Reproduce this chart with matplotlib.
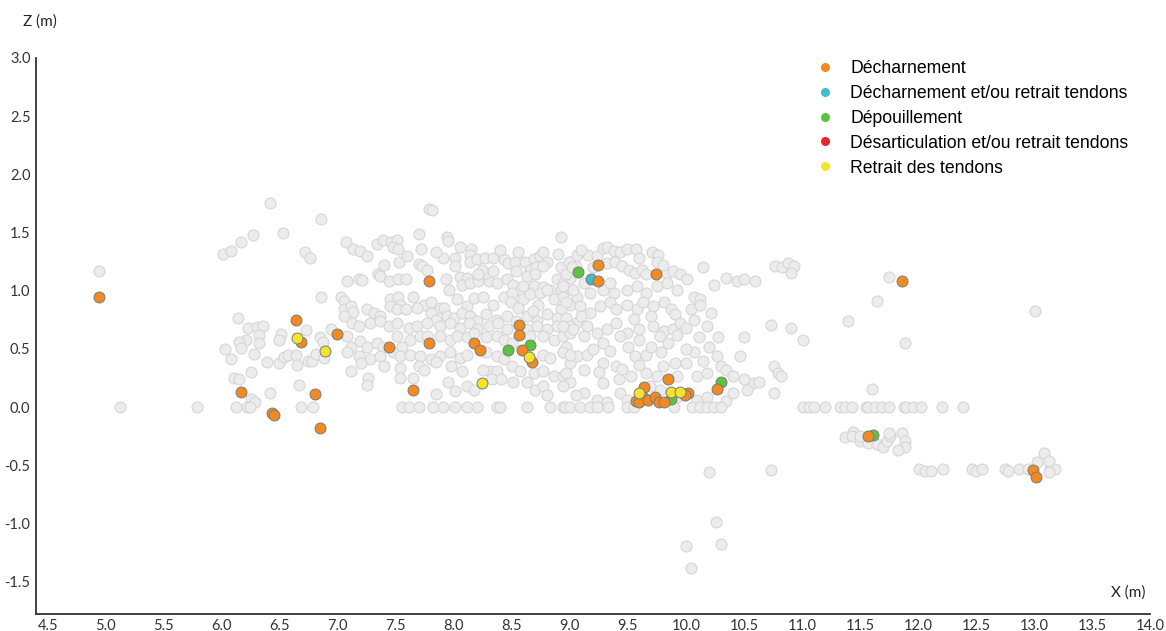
import matplotlib
matplotlib.use('Agg')
import matplotlib.pyplot as plt
from matplotlib.lines import Line2D

# 背景の点（全資料）
bg_left = [
    (6.42, 1.75), (6.86, 1.62), (6.27, 1.48), (6.53, 1.50), (6.17, 1.42), (6.01, 1.32), (6.08, 1.34),
    (6.72, 1.33), (6.76, 1.28), (4.94, 1.17), (6.86, 0.95), (6.14, 0.77), (6.23, 0.68), (6.30, 0.69),
    (6.36, 0.70), (6.32, 0.62), (6.21, 0.58), (6.15, 0.56), (6.17, 0.51), (6.32, 0.55), (6.51, 0.63),
    (6.49, 0.58), (6.73, 0.66), (6.85, 0.60), (6.87, 0.56), (6.94, 0.67), (6.03, 0.50), (6.08, 0.41),
    (6.28, 0.46), (6.39, 0.39), (6.49, 0.38), (6.54, 0.43), (6.57, 0.45), (6.64, 0.45), (6.65, 0.36),
    (6.74, 0.40), (6.78, 0.40), (6.81, 0.46), (6.88, 0.42), (6.25, 0.30), (6.11, 0.25), (6.15, 0.24),
    (6.67, 0.19), (6.42, 0.12), (6.25, 0.07), (6.29, 0.04),
]
bg_center = [
    (7.79, 1.70), (7.81, 1.69), (7.70, 1.49), (7.07, 1.42), (7.13, 1.36), (7.19, 1.34), (7.34, 1.40),
    (7.39, 1.44), (7.46, 1.42), (7.51, 1.44), (7.48, 1.38), (7.52, 1.36), (7.72, 1.36), (7.94, 1.46),
    (7.95, 1.43), (8.15, 1.36), (8.14, 1.31), (8.92, 1.46), (7.53, 1.25), (7.70, 1.23), (7.73, 1.21),
    (7.77, 1.18), (7.91, 1.28), (8.01, 1.28), (8.01, 1.21),
    (8.14, 1.25), (8.20, 1.27), (8.27, 1.28), (8.34, 1.28), (8.43, 1.27), (8.47, 1.24), (8.53, 1.25),
    (8.61, 1.25), (8.69, 1.27), (8.74, 1.30), (8.77, 1.33), (8.80, 1.25), (8.54, 1.17), (8.66, 1.18),
    (8.71, 1.20), (8.77, 1.21), (8.63, 1.13), (8.70, 1.14), (8.92, 1.20), (9.00, 1.25), (9.05, 1.21),
    (7.08, 1.08), (7.18, 1.10), (7.21, 1.09), (7.35, 1.14), (7.36, 1.13), (7.44, 1.08), (7.52, 1.10),
    (7.59, 1.10), (7.93, 1.10), (7.96, 1.01), (8.05, 1.12), (8.11, 1.11), (8.07, 1.05), (8.14, 1.07),
    (8.21, 1.08), (8.30, 1.08), (8.37, 1.07), (8.46, 1.10), (8.28, 1.15), (8.34, 1.17), (8.24, 1.18),
    (8.21, 1.14), (8.51, 1.05), (8.57, 1.01), (8.60, 1.04), (8.69, 1.04), (8.77, 1.03), (8.83, 1.01),
    (8.89, 1.10), (8.94, 1.07), (9.00, 1.11), (8.92, 1.01), (9.03, 1.01),
    (7.03, 0.95), (7.05, 0.91), (7.45, 0.93), (7.52, 0.95), (7.54, 0.88), (7.65, 0.95), (7.74, 0.88),
    (7.80, 0.90), (7.88, 0.85), (7.92, 0.85), (8.03, 0.93), (8.11, 0.87), (8.17, 0.94), (8.25, 0.95),
    (8.34, 0.88), (8.43, 0.95), (8.50, 0.98), (8.49, 0.90), (8.60, 0.93), (8.66, 0.97), (8.74, 0.98),
    (8.73, 0.88), (8.80, 1.01), (8.86, 0.93), (8.94, 0.95), (9.00, 0.88), (8.92, 0.84), (9.06, 0.95),
    (7.05, 0.84), (7.11, 0.87), (7.13, 0.82), (7.25, 0.84), (7.31, 0.81), (7.36, 0.78), (7.45, 0.87),
    (7.51, 0.84), (7.59, 0.84), (7.68, 0.85), (7.80, 0.81), (7.85, 0.75), (7.94, 0.78), (8.00, 0.77),
    (8.07, 0.81), (8.14, 0.78), (8.20, 0.74), (8.28, 0.80), (8.37, 0.75), (8.46, 0.78), (8.54, 0.74),
    (8.63, 0.78), (8.72, 0.74), (8.80, 0.80), (8.89, 0.77), (8.97, 0.77), (9.05, 0.72),
    (7.05, 0.78), (7.12, 0.72), (7.18, 0.70), (7.28, 0.72), (7.36, 0.74), (7.44, 0.70), (7.51, 0.72),
    (7.61, 0.68), (7.68, 0.70), (7.77, 0.72), (7.88, 0.70), (7.97, 0.72), (8.05, 0.68), (8.13, 0.72),
    (8.20, 0.67), (8.30, 0.70), (8.38, 0.72), (8.46, 0.67), (8.63, 0.67), (8.72, 0.70), (8.80, 0.67),
    (8.89, 0.70), (9.00, 0.70),
    (7.08, 0.61), (7.11, 0.52), (7.19, 0.57), (7.25, 0.52), (7.34, 0.55), (7.39, 0.52), (7.51, 0.61),
    (7.55, 0.52), (7.62, 0.58), (7.71, 0.61), (7.77, 0.61), (7.88, 0.61), (7.97, 0.58), (8.03, 0.61),
    (8.11, 0.60), (8.17, 0.64), (8.28, 0.60), (8.37, 0.61), (8.43, 0.58), (8.50, 0.55), (8.66, 0.61),
    (8.77, 0.61), (8.86, 0.58), (8.94, 0.61), (9.00, 0.64),
    (7.08, 0.47), (7.18, 0.44), (7.28, 0.41), (7.36, 0.44), (7.48, 0.47), (7.54, 0.44), (7.62, 0.45),
    (7.71, 0.44), (7.80, 0.41), (7.88, 0.44), (7.97, 0.47), (8.05, 0.42), (8.11, 0.45), (8.28, 0.47),
    (8.37, 0.44), (8.43, 0.41), (8.77, 0.45), (8.83, 0.42), (8.94, 0.47), (9.00, 0.38), (9.06, 0.44),
    (7.11, 0.31), (7.26, 0.25), (7.25, 0.19), (7.54, 0.34), (7.54, 0.25), (7.70, 0.35), (7.74, 0.32),
    (7.85, 0.39), (7.98, 0.35), (8.07, 0.31), (8.31, 0.31), (8.37, 0.31), (8.50, 0.35), (8.57, 0.31),
    (8.69, 0.29), (8.77, 0.31), (8.86, 0.27), (8.94, 0.27), (9.00, 0.22),
    (8.01, 0.14), (8.11, 0.18), (8.17, 0.15), (8.33, 0.24), (8.41, 0.24), (8.51, 0.22), (8.63, 0.22),
    (8.70, 0.15), (8.77, 0.18), (8.94, 0.18), (7.85, 0.11),
    (8.99, 1.25), (9.06, 1.31), (9.16, 1.31), (9.23, 1.30), (9.29, 1.37), (9.32, 1.38), (9.38, 1.34),
    (9.43, 1.33), (9.49, 1.36), (9.57, 1.36), (9.71, 1.33), (9.76, 1.31), (9.75, 1.25),
    (8.97, 1.14), (9.02, 1.20), (9.32, 1.24), (9.39, 1.25), (9.45, 1.21), (9.51, 1.18), (9.56, 1.15),
    (9.62, 1.18), (9.66, 1.14), (9.84, 1.15), (9.89, 1.17), (9.95, 1.14), (10.01, 1.10), (10.15, 1.20),
    (8.94, 1.04), (9.03, 1.01), (9.12, 1.07), (9.17, 0.98), (9.29, 1.01), (9.35, 1.07), (9.38, 0.98),
    (9.49, 1.01), (9.58, 1.04), (9.66, 0.98), (9.75, 1.04), (9.84, 1.07), (9.92, 1.01), (10.07, 0.95),
    (10.12, 0.93), (10.24, 1.05),
    (8.97, 0.90), (9.09, 0.87), (9.17, 0.81), (9.26, 0.87), (9.35, 0.90), (9.40, 0.84), (9.49, 0.88),
    (9.58, 0.84), (9.63, 0.90), (9.72, 0.87), (9.81, 0.90), (9.87, 0.84), (9.91, 0.80), (10.04, 0.84),
    (10.12, 0.88), (10.22, 0.81),
    (8.94, 0.70), (9.03, 0.67), (9.15, 0.70), (9.23, 0.64), (9.32, 0.67), (9.40, 0.72), (9.49, 0.64),
    (9.60, 0.67), (9.72, 0.70), (9.81, 0.65), (9.89, 0.67), (9.95, 0.72), (10.07, 0.75),
    (8.97, 0.52), (9.12, 0.61), (9.29, 0.55), (9.43, 0.61), (9.60, 0.58), (9.78, 0.61), (9.92, 0.62),
    (10.11, 0.60), (10.28, 0.60), (10.50, 0.60), (10.73, 0.71), (10.91, 0.68), (11.01, 0.58),
    (8.94, 0.47), (9.00, 0.45), (9.15, 0.45), (9.29, 0.38), (9.40, 0.35), (9.56, 0.44), (9.66, 0.45),
    (9.79, 0.47), (9.91, 0.38), (10.07, 0.47), (10.27, 0.44), (10.47, 0.44), (10.76, 0.35),
    (10.79, 0.29), (10.82, 0.27), (10.58, 0.21), (10.63, 0.22),
    (8.97, 0.29), (9.12, 0.32), (9.29, 0.21), (9.42, 0.24), (9.53, 0.27), (9.66, 0.29), (9.75, 0.27),
    (9.92, 0.27), (10.10, 0.27), (10.18, 0.29), (10.30, 0.35), (10.35, 0.32), (10.41, 0.27),
    (10.50, 0.24), (10.76, 0.12), (10.53, 0.15),
    (9.12, 0.12), (9.23, 0.06), (9.32, 0.04), (9.43, 0.12), (9.49, 0.06), (9.69, 0.18), (9.78, 0.15),
    (9.92, 0.09), (10.10, 0.06), (10.18, 0.09), (10.35, 0.05), (10.41, 0.12),
    (10.77, 1.21), (10.83, 1.20), (10.88, 1.24), (10.93, 1.21), (10.91, 1.15), (10.35, 1.11),
    (10.44, 1.08), (10.50, 1.10), (10.60, 1.08),
    # 密な部分の補足
    (7.25, 1.30), (7.40, 1.22), (7.60, 1.30), (7.85, 1.33), (8.05, 1.38), (8.40, 1.35), (8.55, 1.33),
    (8.90, 1.32), (9.10, 1.35), (9.60, 1.28), (9.20, 1.20), (9.80, 1.22),
    (8.55, 0.85), (8.68, 0.83), (9.10, 0.78), (9.55, 0.76), (9.70, 0.78), (10.00, 0.68), (10.18, 0.70),
    (9.20, 0.50), (9.35, 0.48), (9.50, 0.52), (9.70, 0.52), (9.85, 0.55), (10.00, 0.50), (10.20, 0.52),
    (9.25, 0.30), (9.45, 0.33), (9.60, 0.36), (9.80, 0.35), (10.00, 0.38), (10.15, 0.40),
    (7.20, 0.38), (7.40, 0.35), (7.65, 0.25), (7.95, 0.22), (8.25, 0.32), (8.80, 0.10), (9.05, 0.10),
]
bg_right = [
    (11.75, 1.12), (11.65, 0.91), (11.40, 0.74), (11.89, 0.55), (13.01, 0.83), (11.60, 0.16),
    (11.37, -0.26), (11.44, -0.21), (11.43, -0.25), (11.50, -0.29), (11.57, -0.31), (11.65, -0.32),
    (11.70, -0.34), (11.73, -0.29), (11.76, -0.25), (11.75, -0.22), (11.86, -0.22), (11.89, -0.29),
    (11.89, -0.34), (11.83, -0.37), (11.50, -0.25),
    (12.01, -0.53), (12.06, -0.55), (12.11, -0.55), (12.22, -0.53), (12.47, -0.53), (12.50, -0.55),
    (12.55, -0.53), (12.75, -0.53), (12.78, -0.55), (12.87, -0.53), (12.95, -0.53), (13.14, -0.53),
    (13.18, -0.53), (13.09, -0.39), (13.13, -0.46), (13.03, -0.47), (13.13, -0.56),
    (10.20, -0.56), (10.73, -0.54), (10.26, -0.99), (10.00, -1.19), (10.30, -1.18), (10.04, -1.38),
]
# Z = 0 に並ぶ点
bg_floor_x = [
    5.12, 5.79, 6.12, 6.22, 6.24, 6.68, 6.79, 7.55, 7.61, 7.70, 7.82, 7.91, 8.01, 8.11, 8.20, 8.37,
    8.40, 8.63, 8.83, 8.94, 8.96, 9.00, 9.09, 9.17, 9.23, 9.33, 9.49, 9.55, 9.90, 10.05, 10.12, 10.18,
    10.24, 10.30, 11.01, 11.06, 11.10, 11.20, 11.33, 11.37, 11.43, 11.55, 11.57, 11.63, 11.69, 11.75,
    11.88, 11.90, 11.96, 12.03, 12.21, 12.39,
]

# カテゴリ別の点
orange_x = [4.94, 6.64, 6.68, 6.99, 6.17, 6.80, 6.43, 6.45, 6.85, 7.79, 7.44, 7.79, 8.17, 8.23, 8.56,
            8.56, 8.59, 8.67, 7.65, 9.24, 9.24, 9.74, 9.85, 9.64, 9.63, 9.57, 9.60, 9.67, 9.73, 9.77,
            9.81, 10.02, 9.99, 10.27, 11.86, 11.57, 12.99, 13.02]
orange_y = [0.95, 0.745, 0.56, 0.63, 0.13, 0.116, -0.05, -0.07, -0.18, 1.08, 0.52, 0.55, 0.55, 0.49,
            0.71, 0.62, 0.49, 0.39, 0.15, 1.22, 1.08, 1.14, 0.245, 0.17, 0.09, 0.056, 0.04, 0.065,
            0.09, 0.047, 0.04, 0.125, 0.10, 0.16, 1.08, -0.25, -0.54, -0.60]
cyan_x = [9.18]
cyan_y = [1.10]
green_x = [8.47, 8.66, 9.07, 9.87, 10.30, 11.61]
green_y = [0.49, 0.53, 1.16, 0.073, 0.22, -0.24]
red_x = []
red_y = []
yellow_x = [6.65, 6.89, 8.65, 8.24, 9.60, 9.87, 9.95]
yellow_y = [0.59, 0.48, 0.43, 0.21, 0.125, 0.13, 0.13]

labels = ['Décharnement', 'Décharnement et/ou retrait tendons', 'Dépouillement',
          'Désarticulation et/ou retrait tendons', 'Retrait des tendons']
colors = ['#F28A22', '#3FBCD2', '#5CC43C', '#E3262A', '#F3E32C']


def main():
    fig = plt.figure(figsize=(11.66, 6.31), dpi=100)
    ax = fig.add_axes([0.0309, 0.0274, 0.9554, 0.8807])

    # 背景の灰色の点
    bg = bg_left + bg_center + bg_right
    ax.scatter([p[0] for p in bg], [p[1] for p in bg], s=62, facecolor='#ECECEC',
               edgecolor='#D6D6D6', linewidth=0.8, zorder=2)
    ax.scatter(bg_floor_x, [0.0] * len(bg_floor_x), s=62, facecolor='#ECECEC',
               edgecolor='#D6D6D6', linewidth=0.8, zorder=2)

    # カテゴリ別の点（描画順: 緑, 水色, 橙, 赤, 黄）
    series = [(green_x, green_y, colors[2]), (cyan_x, cyan_y, colors[1]),
              (orange_x, orange_y, colors[0]), (red_x, red_y, colors[3]),
              (yellow_x, yellow_y, colors[4])]
    for i, (xs, ys, c) in enumerate(series):
        if xs:
            ax.scatter(xs, ys, s=62, facecolor=c, edgecolor='#7a7a7a', linewidth=0.7,
                       zorder=3 + i)

    ax.set_xlim(4.4, 14.0)
    ax.set_ylim(-1.775, 3.0)
    ax.set_xticks([4.5 + 0.5 * i for i in range(20)])
    ax.set_yticks([-1.5 + 0.5 * i for i in range(10)])
    ax.set_xticklabels(['%.1f' % (4.5 + 0.5 * i) for i in range(20)])
    ax.set_yticklabels(['%.1f' % (-1.5 + 0.5 * i) for i in range(10)])
    ax.tick_params(length=0, labelsize=10.5, colors='#333333', pad=4)
    for lab in ax.get_xticklabels() + ax.get_yticklabels():
        lab.set_family('Lato')
    for s in ['top', 'right']:
        ax.spines[s].set_visible(False)
    for s in ['left', 'bottom']:
        ax.spines[s].set_color('#333333')
        ax.spines[s].set_linewidth(1.3)

    fig.text(40 / 1166, 1 - 22 / 631, 'Z (m)', ha='center', va='center', fontsize=11,
             family='Lato', color='#222222')
    fig.text(1128 / 1166, 1 - 593 / 631, 'X (m)', ha='center', va='center', fontsize=11,
             family='Lato', color='#222222')

    handles = [Line2D([], [], linestyle='none', marker='o', markersize=6.5, markerfacecolor=c,
                      markeredgecolor='none') for c in colors]
    fig.legend(handles, labels, loc='upper left', bbox_to_anchor=(807 / 1166, 1 - 51 / 631),
               frameon=False, prop={'family': 'Liberation Sans', 'size': 12.7},
               handlelength=1.0, handletextpad=0.95, labelspacing=0.45, borderpad=0)

    fig.savefig('out.png', dpi=100)


if __name__ == '__main__':
    main()
